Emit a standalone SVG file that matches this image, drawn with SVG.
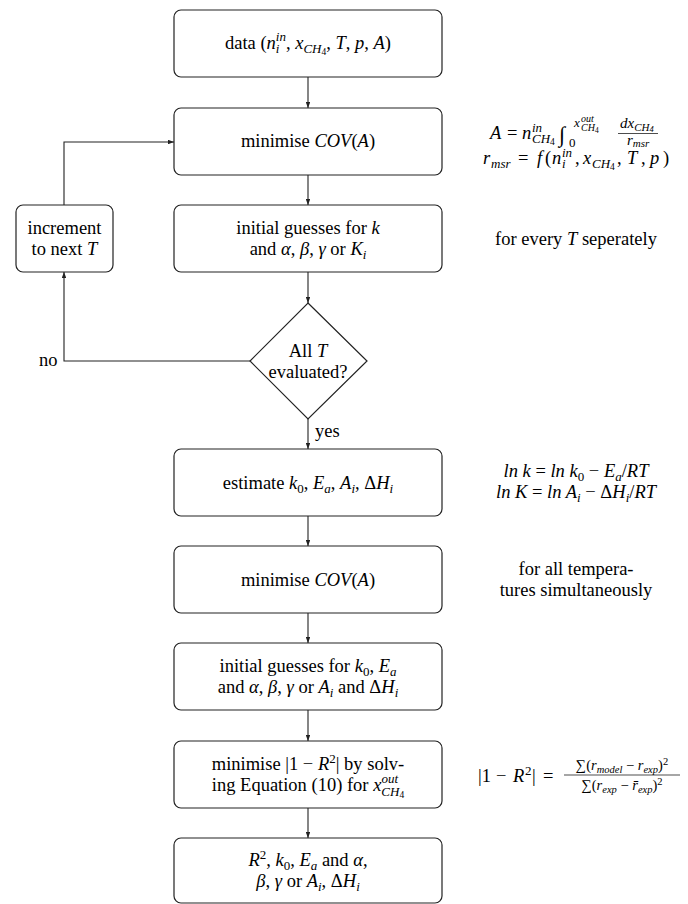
<svg xmlns="http://www.w3.org/2000/svg" width="688" height="904" viewBox="0 0 688 904">
<style>
.t{font-family:"Liberation Serif","Times New Roman",serif;font-size:18.5px;fill:#000}
.i{font-style:italic}
.s{font-size:13px}
.ss{font-size:9.5px}
.sss{font-size:7.5px}
.box{fill:#fff;stroke:#222;stroke-width:1.2}
.c{fill:none;stroke:#222;stroke-width:1.1}
.m{text-anchor:middle}
</style>
<defs>
<marker id="ah" viewBox="0 0 8 6" refX="8" refY="3" markerWidth="6" markerHeight="4.5" orient="auto" markerUnits="userSpaceOnUse">
<path d="M0,0 L8,3 L0,6 z" fill="#222"/>
</marker>
</defs>
<rect width="688" height="904" fill="#fff"/>

<g id="connectors">
<line class="c" x1="308" y1="77" x2="308" y2="108" marker-end="url(#ah)"/>
<line class="c" x1="308" y1="175" x2="308" y2="205" marker-end="url(#ah)"/>
<line class="c" x1="308" y1="272" x2="308" y2="303" marker-end="url(#ah)"/>
<line class="c" x1="308" y1="419" x2="308" y2="449" marker-end="url(#ah)"/>
<line class="c" x1="308" y1="516" x2="308" y2="546" marker-end="url(#ah)"/>
<line class="c" x1="308" y1="613" x2="308" y2="643" marker-end="url(#ah)"/>
<line class="c" x1="308" y1="710" x2="308" y2="741" marker-end="url(#ah)"/>
<line class="c" x1="308" y1="808" x2="308" y2="838" marker-end="url(#ah)"/>
<polyline class="c" points="250,361 64,361 64,272" marker-end="url(#ah)"/>
<polyline class="c" points="64,205 64,142 174,142" marker-end="url(#ah)"/>
<text class="t" x="39" y="366">no</text>
<text class="t" x="315" y="437">yes</text>
</g>

<g id="n1">
<rect class="box" x="174" y="10" width="268" height="67" rx="7"/>
<text class="t m" x="308" y="49">data (<tspan class="i">n</tspan><tspan class="s i" dy="4">i</tspan><tspan class="s i" dx="-3.6" dy="-12">in</tspan><tspan dy="8">, </tspan><tspan class="i">x</tspan><tspan class="s i" dy="4">CH</tspan><tspan class="ss" dy="2">4</tspan><tspan dy="-6">, </tspan><tspan class="i">T</tspan>, <tspan class="i">p</tspan>, <tspan class="i">A</tspan>)</text>
</g>

<g id="n2">
<rect class="box" x="174" y="108" width="268" height="67" rx="7"/>
<text class="t m" x="308" y="147">minimise <tspan class="i">COV</tspan>(<tspan class="i">A</tspan>)</text>
</g>

<g id="a2">
<text class="t" y="139"><tspan x="490" class="i">A</tspan><tspan x="507">=</tspan><tspan x="522" class="i">n</tspan><tspan x="532" class="s i" dy="-7">in</tspan><tspan x="532" class="s i" dy="11">CH</tspan><tspan class="ss" dy="2">4</tspan><tspan x="559" dy="-3" style="font-size:22px">∫</tspan><tspan x="569" class="s" dy="5">0</tspan><tspan x="574" class="s i" dy="-20">x</tspan><tspan x="581" class="i" style="font-size:10px" dy="-5">out</tspan><tspan x="581" class="i" style="font-size:10px" dy="9">CH</tspan><tspan class="sss" dy="2">4</tspan></text>
<text class="t i" x="620" y="128" style="font-size:15px">dx<tspan style="font-size:11px" dy="2.5">CH</tspan><tspan style="font-size:8.5px" dy="1.5">4</tspan></text>
<line x1="618" y1="133.5" x2="658" y2="133.5" stroke="#000" stroke-width="0.7"/>
<text class="t i" x="627" y="145" style="font-size:15px">r<tspan style="font-size:11px" dy="2">msr</tspan></text>
<text class="t" y="164"><tspan x="483" class="i">r</tspan><tspan x="491" dy="4" class="s i">msr</tspan><tspan x="518" dy="-4">=</tspan><tspan x="537" class="i">f</tspan><tspan x="545">(</tspan><tspan x="552" class="i">n</tspan><tspan x="562" dy="4" class="s i">i</tspan><tspan x="562" dy="-11" class="s i">in</tspan><tspan x="575" dy="7">,</tspan><tspan x="583" class="i">x</tspan><tspan x="592" dy="4" class="s i">CH</tspan><tspan dy="2" class="ss">4</tspan><tspan x="617" dy="-6">,</tspan><tspan x="627" class="i">T</tspan><tspan x="641">,</tspan><tspan x="650" class="i">p</tspan><tspan x="663">)</tspan></text>
</g>

<g id="n3">
<rect class="box" x="174" y="205" width="268" height="67" rx="7"/>
<text class="t m" x="308" y="234">initial guesses for <tspan class="i">k</tspan></text>
<text class="t m" x="308" y="255">and <tspan class="i">α</tspan>, <tspan class="i">β</tspan>, <tspan class="i">γ</tspan> or <tspan class="i">K</tspan><tspan class="s i" dy="4">i</tspan></text>
</g>

<g id="a3">
<text class="t m" x="576" y="245">for every <tspan class="i">T</tspan> seperately</text>
</g>

<g id="inc">
<rect class="box" x="16" y="205" width="97" height="67" rx="7"/>
<text class="t m" x="64.5" y="234">increment</text>
<text class="t m" x="64.5" y="255">to next <tspan class="i">T</tspan></text>
</g>

<g id="dec">
<polygon class="box" points="308,303 367,361 308,419 250,361"/>
<text class="t m" x="308" y="357">All <tspan class="i">T</tspan></text>
<text class="t m" x="308" y="378">evaluated?</text>
</g>

<g id="n4">
<rect class="box" x="174" y="449" width="268" height="67" rx="7"/>
<text class="t m" x="308" y="489">estimate <tspan class="i">k</tspan><tspan class="s" dy="4">0</tspan><tspan dy="-4">, </tspan><tspan class="i">E</tspan><tspan class="s i" dy="4">a</tspan><tspan dy="-4">, </tspan><tspan class="i">A</tspan><tspan class="s i" dy="4">i</tspan><tspan dy="-4">, Δ</tspan><tspan class="i">H</tspan><tspan class="s i" dy="4">i</tspan></text>
</g>

<g id="a4">
<text class="t m" x="576" y="477"><tspan class="i">ln k</tspan> = <tspan class="i">ln k</tspan><tspan class="s" dy="4">0</tspan><tspan dy="-4"> − </tspan><tspan class="i">E</tspan><tspan class="s i" dy="4">a</tspan><tspan dy="-4">/</tspan><tspan class="i">RT</tspan></text>
<text class="t m" x="576" y="498"><tspan class="i">ln K</tspan> = <tspan class="i">ln A</tspan><tspan class="s i" dy="4">i</tspan><tspan dy="-4"> − Δ</tspan><tspan class="i">H</tspan><tspan class="s i" dy="4">i</tspan><tspan dy="-4">/</tspan><tspan class="i">RT</tspan></text>
</g>

<g id="n5">
<rect class="box" x="174" y="546" width="268" height="67" rx="7"/>
<text class="t m" x="308" y="586">minimise <tspan class="i">COV</tspan>(<tspan class="i">A</tspan>)</text>
</g>

<g id="a5">
<text class="t m" x="576" y="575">for all tempera-</text>
<text class="t m" x="576" y="596">tures simultaneously</text>
</g>

<g id="n6">
<rect class="box" x="174" y="643" width="268" height="67" rx="7"/>
<text class="t m" x="308" y="672">initial guesses for <tspan class="i">k</tspan><tspan class="s" dy="4">0</tspan><tspan dy="-4">, </tspan><tspan class="i">E</tspan><tspan class="s i" dy="4">a</tspan></text>
<text class="t m" x="308" y="693">and <tspan class="i">α</tspan>, <tspan class="i">β</tspan>, <tspan class="i">γ</tspan> or <tspan class="i">A</tspan><tspan class="s i" dy="4">i</tspan><tspan dy="-4"> and Δ</tspan><tspan class="i">H</tspan><tspan class="s i" dy="4">i</tspan></text>
</g>

<g id="n7">
<rect class="box" x="174" y="741" width="268" height="67" rx="7"/>
<text class="t m" x="308" y="770">minimise |1 − <tspan class="i">R</tspan><tspan class="s" dy="-7">2</tspan><tspan dy="7">| by solv-</tspan></text>
<text class="t m" x="308" y="791">ing Equation (10) for <tspan class="i">x</tspan><tspan class="s i" dy="5">CH</tspan><tspan class="ss" dy="2">4</tspan><tspan class="s i" dx="-22.7" dy="-15">out</tspan></text>
</g>

<g id="a7">
<text class="t" y="782"><tspan x="478">|1</tspan><tspan x="496">−</tspan><tspan x="513" class="i">R</tspan><tspan x="525" class="s" dy="-7">2</tspan><tspan x="532" dy="7">|</tspan><tspan x="543">=</tspan></text>
<text class="t m" x="622" y="770" style="font-size:14.5px">∑(<tspan class="i">r</tspan><tspan class="i" style="font-size:10.5px" dy="2.5">model</tspan><tspan dy="-2.5"> − </tspan><tspan class="i">r</tspan><tspan class="i" style="font-size:10.5px" dy="2.5">exp</tspan><tspan dy="-2.5">)</tspan><tspan style="font-size:10.5px" dy="-5">2</tspan></text>
<line x1="564" y1="775" x2="680" y2="775" stroke="#000" stroke-width="0.7"/>
<text class="t m" x="622" y="790" style="font-size:14.5px">∑(<tspan class="i">r</tspan><tspan class="i" style="font-size:10.5px" dy="2.5">exp</tspan><tspan dy="-2.5"> − </tspan><tspan class="i">r̄</tspan><tspan class="i" style="font-size:10.5px" dy="2.5">exp</tspan><tspan dy="-2.5">)</tspan><tspan style="font-size:10.5px" dy="-5">2</tspan></text>
</g>

<g id="n8">
<rect class="box" x="174" y="838" width="268" height="65" rx="7"/>
<text class="t m" x="308" y="866"><tspan class="i">R</tspan><tspan class="s" dy="-7">2</tspan><tspan dy="7">, </tspan><tspan class="i">k</tspan><tspan class="s" dy="4">0</tspan><tspan dy="-4">, </tspan><tspan class="i">E</tspan><tspan class="s i" dy="4">a</tspan><tspan dy="-4"> and </tspan><tspan class="i">α</tspan>,</text>
<text class="t m" x="308" y="887"><tspan class="i">β</tspan>, <tspan class="i">γ</tspan> or <tspan class="i">A</tspan><tspan class="s i" dy="4">i</tspan><tspan dy="-4">, Δ</tspan><tspan class="i">H</tspan><tspan class="s i" dy="4">i</tspan></text>
</g>
</svg>
